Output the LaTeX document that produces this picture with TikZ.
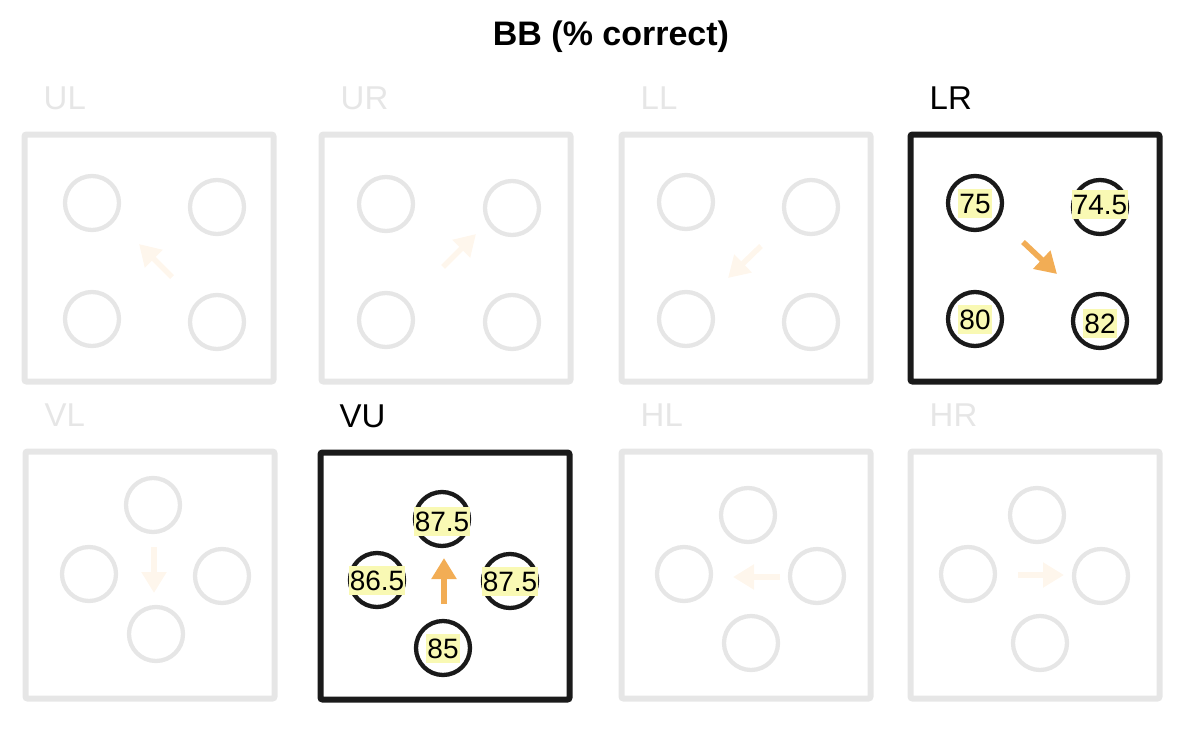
\documentclass[tikz,border=0pt]{standalone}
\usepackage{fontspec}
\setmainfont{Liberation Sans}
\usetikzlibrary{calc,positioning,arrows.meta}
\definecolor{faint}{RGB}{230,230,230}
\definecolor{ink}{RGB}{26,26,26}
\definecolor{cue}{RGB}{242,173,85}
\definecolor{cuefaint}{RGB}{254,246,236}
\definecolor{hilite}{RGB}{249,249,180}

\begin{document}
\begin{tikzpicture}[x=1pt, y=-1pt,
  panel/.style={draw, line width=6pt, rounded corners=2pt, minimum width=249pt, minimum height=247pt, inner sep=0pt},
  spot/.style={draw, circle, line width=4.3pt, minimum size=54pt, inner sep=0pt},
  score/.style={fill=hilite, inner xsep=1pt, inner ysep=4.5pt, text height=20pt, text depth=0pt, font=\fontsize{28}{28}\selectfont},
  tag/.style={anchor=base west, inner sep=0pt, font=\fontsize{33}{33}\selectfont},
  cuearrow/.style={line width=5.5pt, -{Triangle[length=21pt,width=24pt]}},
  dim/.style={draw=faint, text=faint},
  lit/.style={draw=ink, text=black}]
  \useasboundingbox (0,0) rectangle (1194,734);

  \node[anchor=base, inner sep=0pt, font=\bfseries\fontsize{34}{34}\selectfont] (title) at (611,45) {BB (\% correct)};

  % top row
  \node[panel, dim] (ul) at (149,258) {};
  \node[tag, dim, draw=none] (ul tag) at ($(ul.north west)+(22,-22)$) {UL};
  \node[spot, dim] (ul a) at (92,203) {};
  \node[spot, dim] (ul b) at (217,207) {};
  \node[spot, dim] (ul c) at (92,319) {};
  \node[spot, dim] (ul d) at (217,322) {};
  \coordinate (ul from) at (172,277);
  \coordinate (ul to) at (139,244);
  \draw[cuearrow, cuefaint] (ul from) -- (ul to);

  \node[panel, dim] (ur) at (446,258) {};
  \node[tag, dim, draw=none] (ur tag) at ($(ur.north west)+(22,-22)$) {UR};
  \node[spot, dim] (ur a) at (386,204) {};
  \node[spot, dim] (ur b) at (512,208) {};
  \node[spot, dim] (ur c) at (386,320) {};
  \node[spot, dim] (ur d) at (512,322) {};
  \coordinate (ur from) at (443,267);
  \coordinate (ur to) at (476,234);
  \draw[cuearrow, cuefaint] (ur from) -- (ur to);

  \node[panel, dim] (ll) at (746,258) {};
  \node[tag, dim, draw=none] (ll tag) at ($(ll.north west)+(22,-22)$) {LL};
  \node[spot, dim] (ll a) at (686,202) {};
  \node[spot, dim] (ll b) at (811,207) {};
  \node[spot, dim] (ll c) at (686,319) {};
  \node[spot, dim] (ll d) at (811,322) {};
  \coordinate (ll from) at (761,246);
  \coordinate (ll to) at (728,278);
  \draw[cuearrow, cuefaint] (ll from) -- (ll to);

  \node[panel, lit] (lr) at (1035,258) {};
  \node[tag, lit, draw=none] (lr tag) at ($(lr.north west)+(22,-22)$) {LR};
  \node[spot, lit] (lr a) at (975,203) {};
  \node[spot, lit] (lr b) at (1100,207) {};
  \node[spot, lit] (lr c) at (975,319) {};
  \node[spot, lit] (lr d) at (1100,321) {};
  \node[score] at (lr a) {75};
  \node[score] at ($(lr b)+(0,-3)$) {74.5};
  \node[score] at (lr c) {80};
  \node[score] at ($(lr d)+(0,2)$) {82};
  \coordinate (lr from) at (1023,242);
  \coordinate (lr to) at (1057,274);
  \draw[cuearrow, cue] (lr from) -- (lr to);

  % bottom row
  \node[panel, dim] (vl) at (150,575) {};
  \node[tag, dim, draw=none] (vl tag) at ($(vl.north west)+(22,-22)$) {VL};
  \node[spot, dim] (vl t) at (153,505) {};
  \node[spot, dim] (vl l) at (89,574) {};
  \node[spot, dim] (vl r) at (222,576) {};
  \node[spot, dim] (vl b) at (156,634) {};
  \coordinate (vl from) at (154,547);
  \coordinate (vl to) at (154,593);
  \draw[cuearrow, cuefaint] (vl from) -- (vl to);

  \node[panel, lit] (vu) at (445,576) {};
  \node[tag, lit, draw=none] (vu tag) at ($(vu.north west)+(22,-22)$) {VU};
  \node[spot, lit] (vu t) at (442,519) {};
  \node[spot, lit] (vu l) at (377,580) {};
  \node[spot, lit] (vu r) at (510,581) {};
  \node[spot, lit] (vu b) at (443,648) {};
  \node[score] at ($(vu t)+(0,2)$) {87.5};
  \node[score] at (vu l) {86.5};
  \node[score] at (vu r) {87.5};
  \node[score] at (vu b) {85};
  \coordinate (vu from) at (444,604);
  \coordinate (vu to) at (444,558);
  \draw[cuearrow, cue] (vu from) -- (vu to);

  \node[panel, dim] (hl) at (746,575) {};
  \node[tag, dim, draw=none] (hl tag) at ($(hl.north west)+(22,-22)$) {HL};
  \node[spot, dim] (hl t) at (748,515) {};
  \node[spot, dim] (hl l) at (684,574) {};
  \node[spot, dim] (hl r) at (817,576) {};
  \node[spot, dim] (hl b) at (751,643) {};
  \coordinate (hl from) at (780,577);
  \coordinate (hl to) at (733,577);
  \draw[cuearrow, cuefaint] (hl from) -- (hl to);

  \node[panel, dim] (hr) at (1035,575) {};
  \node[tag, dim, draw=none] (hr tag) at ($(hr.north west)+(22,-22)$) {HR};
  \node[spot, dim] (hr t) at (1037,515) {};
  \node[spot, dim] (hr l) at (968,574) {};
  \node[spot, dim] (hr r) at (1101,576) {};
  \node[spot, dim] (hr b) at (1040,643) {};
  \coordinate (hr from) at (1018,575);
  \coordinate (hr to) at (1064,575);
  \draw[cuearrow, cuefaint] (hr from) -- (hr to);
\end{tikzpicture}
\end{document}
